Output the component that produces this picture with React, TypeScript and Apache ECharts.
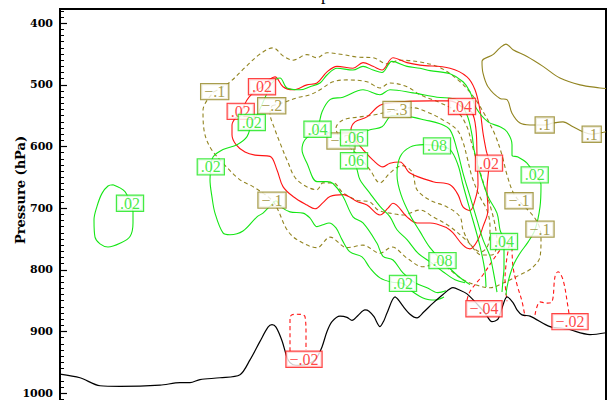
import React, { useEffect, useRef } from "react";
import * as echarts from "echarts";

const GREEN = "#14e614";
const RED = "#ff1414";
const OLIVE = "#928420";

const majorTicks = [400, 500, 600, 700, 800, 900, 1000];

const terrain = [[0,969],[20,975],[40,988],[60,989],[100,987],[120,983],[130,983],[140,978],[160,975],[180,970],[190,946],[200,916],[208,893],[212,889],[216,893],[222,915],[228,946],[233,954],[240,955],[250,951],[256,944],[262,925],[267,900],[272,884],[280,875],[287,877],[292,882],[298,874],[305,865],[309,867],[314,876],[320,892],[324,882],[327,870],[335,844],[339,850],[343,859],[350,872],[357,878],[364,868],[373,854],[383,840],[393,829],[400,833],[407,839],[418,857],[425,870],[432,884],[438,880],[442,862],[447,844],[453,853],[457,865],[462,873],[470,875],[490,892],[507,896],[530,905],[546,902]];

const olivePos1 = [[546,506],[540,505],[520,500],[500,489],[483,470],[467,454],[453,443],[446,434],[440,440],[433,451],[422,462],[423,481],[428,503],[440,522],[447,524],[452,546],[460,562],[470,565],[485,565],[493,562],[503,560],[513,568],[523,576],[532,580],[540,578],[546,576]];

const oliveNeg1 = [[154,511],[168,498],[185,472],[200,450],[213,440],[223,453],[233,460],[247,451],[257,456],[267,448],[283,451],[297,455],[313,456],[327,466],[340,460],[360,463],[380,472],[398,492],[412,516],[425,549],[435,581],[442,614],[447,646],[453,674],[459,688],[468,703],[476,719],[480,734],[481,751],[480,779],[472,797],[460,808],[445,820],[430,829],[415,824],[403,816],[390,800],[380,787],[363,795],[347,781],[332,763],[320,773],[303,760],[287,764],[270,747],[257,764],[237,751],[227,735],[218,703],[212,687],[193,665],[180,654],[163,627],[150,601],[144,573],[143,541],[154,511]];

const oliveNeg2 = [[212,534],[225,528],[237,521],[250,516],[260,508],[273,495],[287,492],[307,495],[320,505],[330,497],[347,503],[360,516],[380,529],[398,545],[407,568],[412,597],[418,630],[424,662],[430,695],[435,727],[437,756],[432,776],[422,776],[407,753],[390,730],[373,714],[360,703],[343,711],[330,708],[318,703],[310,690],[297,687],[283,675],[273,659],[263,659],[257,670],[237,654],[227,622],[220,594],[215,573],[210,545],[212,534]];

const oliveNeg3 = [[281,591],[276,570],[283,557],[300,552],[313,549],[337,541],[352,537],[367,544],[383,557],[397,573],[403,593],[407,617],[412,649],[420,682],[427,703],[430,730],[428,760],[421,771],[411,760],[403,735],[400,714],[387,698],[370,687],[357,670],[352,641],[342,631],[330,643],[320,659],[310,638],[300,618],[290,602],[281,591]];

const redPos02 = [[202,503],[215,487],[223,503],[233,508],[247,500],[257,497],[267,479],[277,470],[293,473],[303,464],[313,470],[322,476],[333,456],[347,464],[360,468],[390,473],[407,487],[415,508],[420,541],[423,578],[426,605],[429,627],[427,670],[428,703],[423,730],[418,751],[410,766],[403,760],[393,740],[387,732],[370,724],[357,724],[347,714],[333,692],[328,700],[320,711],[307,695],[297,689],[283,678],[270,681],[263,691],[255,701],[247,695],[233,681],[223,665],[217,638],[210,616],[195,614],[185,609],[176,597],[172,581],[172,565],[181,543],[189,520],[202,503]];

const redPos04 = [[402,536],[412,545],[416,573],[417,614],[418,662],[415,687],[410,704],[403,698],[398,678],[390,662],[373,657],[350,643],[340,625],[330,627],[323,633],[313,622],[303,605],[295,589],[291,573],[295,560],[307,552],[320,533],[337,528],[370,526],[390,526],[402,536]];

const redNegA = [[230,932],[230,878],[232,873],[237,872],[243,873],[245,876],[246,900],[246,930]];
const redNegB = [[407,849],[410,835],[423,808],[433,784],[440,768],[445,758],[450,754],[448,770],[446,792],[445,816],[447,851]];
const redNegC = [[452,764],[453,795],[457,824],[462,851],[465,876]];
const redNegD = [[475,873],[480,852],[487,854],[492,852],[495,811],[498,803],[503,816],[508,860],[509,871]];

const greenIso = [[53,662],[65,673],[70,692],[73,706],[73,724],[70,746],[60,757],[48,763],[35,747],[34,719],[37,697],[42,676],[48,664],[53,662]];

const green02 = [[446,841],[447,828],[450,808],[454,790],[460,773],[468,755],[475,735],[480,698],[481,662],[475,646],[467,627],[458,617],[452,614],[452,597],[447,576],[440,568],[428,560],[416,537],[410,511],[403,495],[390,482],[370,477],[360,473],[347,470],[332,462],[322,480],[313,476],[303,470],[293,476],[277,473],[267,484],[260,497],[250,503],[240,508],[227,505],[220,489],[212,497],[205,521],[197,549],[192,561],[187,584],[177,597],[163,605],[153,617],[151,633],[150,654],[152,682],[155,708],[163,740],[170,743],[183,737],[197,714],[203,708],[211,695],[216,688],[221,698],[230,706],[243,708],[250,716],[257,730],[263,727],[269,724],[276,732],[282,751],[290,771],[302,779],[310,797],[320,813],[332,820],[343,822],[353,836],[365,847],[375,849],[384,844]];

const green04 = [[442,836],[443,816],[444,797],[444,776],[444,754],[440,735],[437,708],[428,681],[420,643],[414,605],[412,581],[407,549],[397,524],[377,520],[353,513],[330,508],[320,516],[303,508],[283,520],[270,524],[262,544],[257,572],[245,589],[242,605],[247,627],[257,657],[267,657],[273,660],[283,681],[293,714],[303,724],[317,757],[323,778],[333,784],[343,805],[355,821],[367,829],[378,837],[386,834]];

const green06 = [[437,836],[433,800],[430,778],[423,751],[417,719],[410,681],[403,643],[397,605],[390,573],[380,563],[365,557],[350,552],[332,550],[322,568],[310,573],[294,586],[294,623],[297,637],[300,654],[310,676],[320,697],[330,714],[337,735],[347,751],[358,773],[370,787],[383,803],[395,816],[405,821]];

const green08 = [[410,824],[398,810],[382,785],[370,764],[360,738],[350,711],[341,678],[337,646],[340,617],[350,601],[364,597],[377,599],[390,605],[398,630],[403,662],[410,703],[417,743],[422,776],[425,803],[426,828]];

const oliveLabels = [[154.7,511,"\u2212.1"],[211.7,534,"\u2212.2"],[337,540,"\u2212.3"],[281,591,"\u2212.3"],[212,687,"\u2212.1"],[459,688,"\u2212.1"],[480,734,"\u2212.1"],[484.7,565,".1"],[531.7,580,".1"]];
const redLabels = [[202,503,".02"],[180.7,543,".02"],[402,535,".04"],[429,627,".02"],[244,945,"\u2212.02"],[424,863,"\u2212.04"],[510,884,"\u2212.02"]];
const greenLabels = [[70,692,".02"],[150.8,633,".02"],[191.8,561,".02"],[257.5,572,".04"],[294,586,".06"],[294,623,".06"],[377,599,".08"],[474.7,646,".02"],[444,754,".04"],[382.5,785,".08"],[343,822,".02"]];

function contour(data: number[][], color: string, dashed: boolean) {
  return {
    type: "line",
    data,
    symbol: "none",
    showSymbol: false,
    smooth: 0.35,
    silent: true,
    z: 2,
    lineStyle: { color, width: 1.1, type: dashed ? [4, 3] : "solid" },
  };
}

function labels(data: any[], color: string, z: number) {
  return {
    type: "scatter",
    data,
    symbolSize: 1,
    silent: true,
    z,
    itemStyle: { color: "rgba(0,0,0,0)" },
    label: {
      show: true,
      position: "inside",
      formatter: (p: any) => p.data[2],
      color,
      fontFamily: "Liberation Serif",
      fontSize: 16,
      lineHeight: 13,
      backgroundColor: "#fff",
      borderColor: color,
      borderWidth: 1.2,
      padding: [1, 3, 1, 3],
    },
  };
}

export default function App() {
  const ref = useRef<HTMLDivElement>(null);
  useEffect(() => {
    if (!ref.current) return;
    const chart = echarts.init(ref.current, undefined, { renderer: "svg" });
    const minor: number[] = [];
    for (let v = 380; v <= 1020; v += 10) minor.push(v);
    chart.setOption({
      animation: false,
      backgroundColor: "#fff",
      grid: { left: 60, right: 6, top: 9, bottom: 14.5, show: true, borderColor: "#000", borderWidth: 2 },
      xAxis: { type: "value", min: 0, max: 546, show: false },
      yAxis: [
        {
          type: "value", inverse: true, min: 377, max: 1020, position: "left",
          axisLine: { show: true, lineStyle: { color: "#000", width: 2 } },
          axisTick: { show: true, inside: true, length: 7, customValues: majorTicks, lineStyle: { color: "#000", width: 1.2 } },
          axisLabel: { show: true, customValues: majorTicks, formatter: (v: number) => String(v), margin: 7, color: "#000", fontFamily: "DejaVu Serif", fontWeight: "bold", fontSize: 11 },
          splitLine: { show: false },
        },
        {
          type: "value", inverse: true, min: 377, max: 1020, position: "left",
          axisLine: { show: false },
          axisTick: { show: true, inside: true, length: 4, customValues: minor, lineStyle: { color: "#000", width: 1 } },
          axisLabel: { show: false },
          splitLine: { show: false },
        },
      ],
      graphic: [
        { type: "text", x: 20, y: 190, rotation: Math.PI / 2, style: { text: "Pressure (hPa)", fill: "#000", font: "bold 13px 'DejaVu Serif'", align: "center", verticalAlign: "middle" } },
        { type: "text", x: 321, y: -15, style: { text: "p", fill: "#000", font: "18px 'Liberation Serif'", verticalAlign: "top" } },
      ],
      series: [
        contour(olivePos1, OLIVE, false),
        contour(oliveNeg1, OLIVE, true),
        contour(oliveNeg2, OLIVE, true),
        contour(oliveNeg3, OLIVE, true),
        contour(redPos02, RED, false),
        contour(redPos04, RED, false),
        contour(redNegA, RED, true),
        contour(redNegB, RED, true),
        contour(redNegC, RED, true),
        contour(redNegD, RED, true),
        contour(greenIso, GREEN, false),
        contour(green02, GREEN, false),
        contour(green04, GREEN, false),
        contour(green06, GREEN, false),
        contour(green08, GREEN, false),
        { type: "line", data: terrain, symbol: "none", showSymbol: false, smooth: 0.3, silent: true, z: 3, lineStyle: { color: "#000", width: 1.2 } },
        labels(oliveLabels, OLIVE, 5),
        labels(redLabels, RED, 6),
        labels(greenLabels, GREEN, 7),
      ],
    });
    return () => chart.dispose();
  }, []);
  return (
    <div style={{ position: "fixed", left: 0, top: 0, width: 612, height: 400, overflow: "hidden", background: "#fff" }}>
      <div ref={ref} style={{ width: 612, height: 420 }} />
    </div>
  );
}
